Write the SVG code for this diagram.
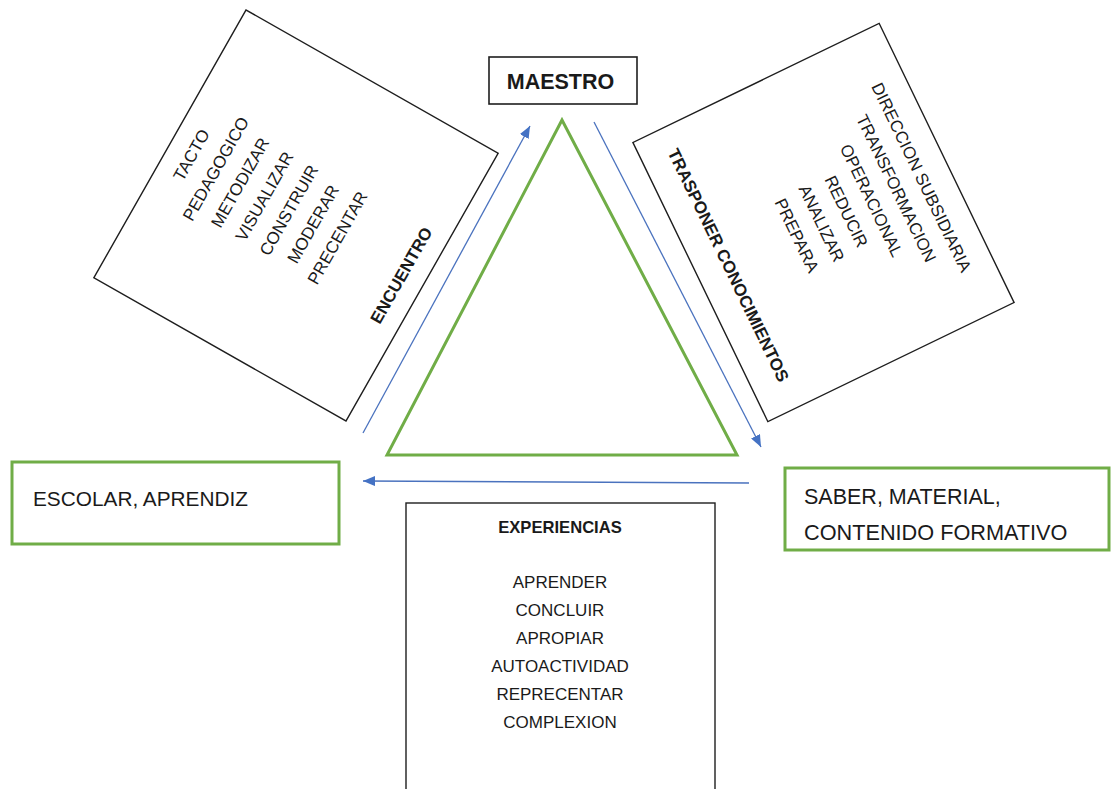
<svg xmlns="http://www.w3.org/2000/svg" width="1111" height="789" viewBox="0 0 1111 789">
<style>
  .bg{fill:#ffffff}
  .box{fill:#ffffff;stroke:#1e1e1e;stroke-width:1.4}
  .gbox{fill:#ffffff;stroke:#70AD47;stroke-width:3}
  .tri{fill:none;stroke:#70AD47;stroke-width:3;stroke-linejoin:miter}
  .t{font-family:"Liberation Sans",Arial,sans-serif;font-size:17px;fill:#1a1a1a}
  .tb{font-family:"Liberation Sans",Arial,sans-serif;font-size:17px;font-weight:bold;fill:#1a1a1a}
  .big{font-family:"Liberation Sans",Arial,sans-serif;font-size:21.5px;fill:#1a1a1a}
  .c{text-anchor:middle}
  .arrow{stroke:#4a72be;stroke-width:1.3;fill:none;marker-end:url(#ah)}
</style>
<defs>
  <marker id="ah" viewBox="0 0 12 10" refX="12" refY="5" markerWidth="12" markerHeight="10" markerUnits="userSpaceOnUse" orient="auto">
    <path d="M0,0 L12,5 L0,10 Z" fill="#4472C4"/>
  </marker>
</defs>
<rect class="bg" x="0" y="0" width="1111" height="789"/>

<g id="encuentro">
  <g transform="translate(296,215.5) rotate(29.6)">
    <rect class="box" x="-145" y="-154" width="290" height="308"/>
    <g transform="rotate(-90)">
      <text class="t c" x="1" y="-115">TACTO</text>
      <text class="t c" x="1" y="-87">PEDAGOGICO</text>
      <text class="t c" x="1" y="-59">METODIZAR</text>
      <text class="t c" x="1" y="-31">VISUALIZAR</text>
      <text class="t c" x="1" y="-3">CONSTRUIR</text>
      <text class="t c" x="1" y="25">MODERAR</text>
      <text class="t c" x="1" y="53">PRECENTAR</text>
      <text class="tb c" x="0" y="127">ENCUENTRO</text>
    </g>
  </g>
</g>

<g id="trasponer">
  <g transform="translate(823.5,222.5) rotate(-25.8)">
    <rect class="box" x="-136.75" y="-155" width="273.5" height="310"/>
    <g transform="rotate(90)">
      <text class="t c" x="2" y="-102">DIRECCION SUBSIDIARIA</text>
      <text class="t c" x="1" y="-74.5">TRANSFORMACION</text>
      <text class="t c" x="1" y="-47">OPERACIONAL</text>
      <text class="t c" x="0" y="-19.5">REDUCIR</text>
      <text class="t c" x="0" y="8">ANALIZAR</text>
      <text class="t c" x="0" y="35.5">PREPARA</text>
      <text class="tb c" x="-3" y="110">TRASPONER  CONOCIMIENTOS</text>
    </g>
  </g>
</g>

<g id="maestro">
  <rect class="box" x="489" y="57" width="148" height="47" style="stroke-width:1.6"/>
  <text class="c" x="560.5" y="89" style="font-family:'Liberation Sans',Arial,sans-serif;font-size:21.5px;font-weight:bold;fill:#1a1a1a">MAESTRO</text>
</g>

<g id="triangulo">
  <polygon class="tri" points="562,120 387,455 737,455"/>
</g>

<g id="escolar">
  <rect class="gbox" x="12" y="462" width="327" height="82"/>
  <text class="big" x="33" y="506" style="font-size:20.8px">ESCOLAR, APRENDIZ</text>
</g>

<g id="saber">
  <rect class="gbox" x="785" y="468" width="324" height="82"/>
  <text class="big" x="804" y="504">SABER, MATERIAL,</text>
  <text class="big" x="804" y="540" style="font-size:21.7px">CONTENIDO FORMATIVO</text>
</g>

<g id="experiencias">
  <rect class="box" x="406" y="503" width="309" height="300"/>
  <text class="tb c" x="560" y="533" style="font-size:16.6px">EXPERIENCIAS</text>
  <text class="t c" x="560" y="588">APRENDER</text>
  <text class="t c" x="560" y="616">CONCLUIR</text>
  <text class="t c" x="560" y="644">APROPIAR</text>
  <text class="t c" x="560" y="672">AUTOACTIVIDAD</text>
  <text class="t c" x="560" y="700">REPRECENTAR</text>
  <text class="t c" x="560" y="728">COMPLEXION</text>
</g>

<g id="connectors">
  <line class="arrow" x1="363" y1="433" x2="530" y2="126"/>
  <line class="arrow" x1="594" y1="122" x2="761" y2="447"/>
  <line class="arrow" x1="749" y1="483" x2="363" y2="481"/>
</g>
</svg>
